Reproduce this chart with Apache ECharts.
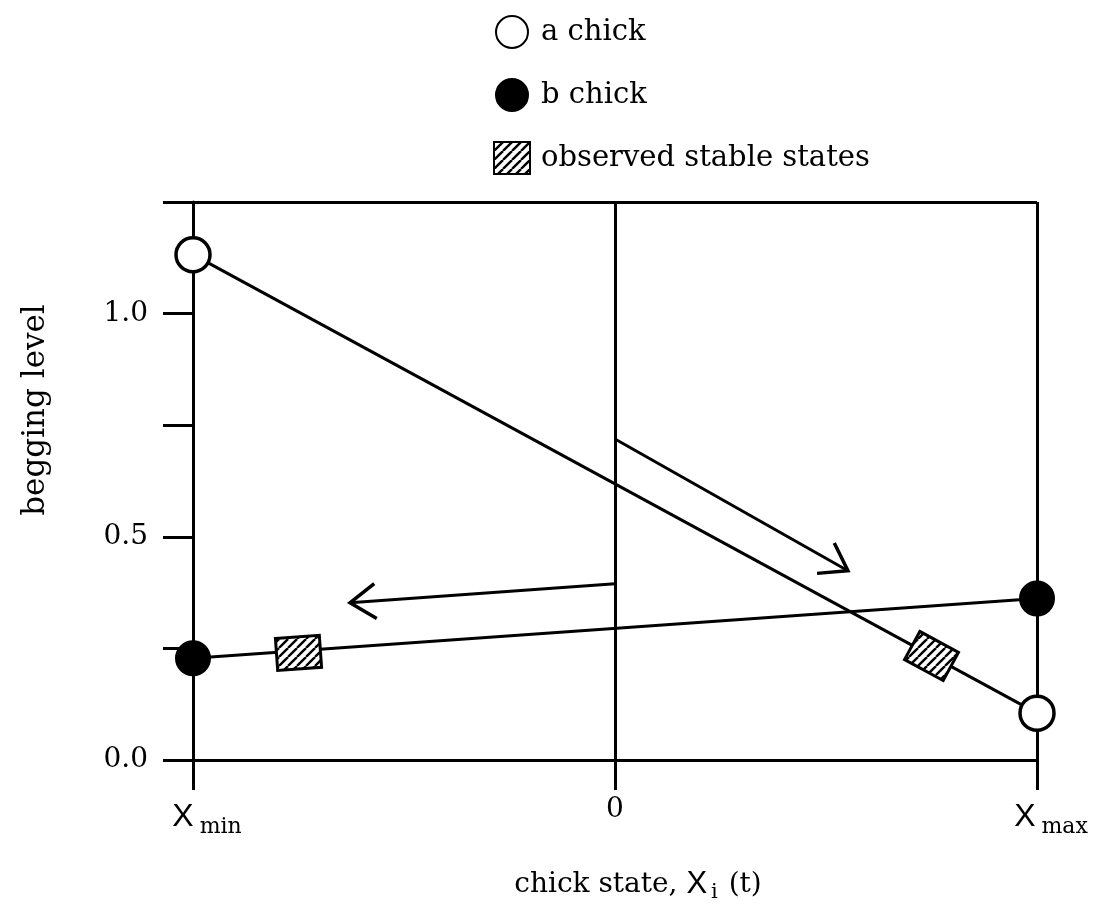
<!DOCTYPE html>
<html>
<head>
<meta charset="utf-8">
<script src="https://cdn.jsdelivr.net/npm/echarts@6/dist/echarts.min.js"></script>
<style>
html,body{margin:0;padding:0;background:#fff;}
#c{width:1096px;height:914px;}
</style>
</head>
<body>
<div id="c"></div>
<script>
// ---- data ----
const xTicks = [-1, 0, 1];
const xTickLabels = ['{x|X}{s|min}', '{n|0}', '{x|X}{s|max}'];
const yTickValues = [0, 0.5, 1.0];
const yTickLabels = ['0.0', '0.5', '1.0'];
const aChick = [[-1, 1.132], [1, 0.105]];
const bChick = [[-1, 0.228], [1, 0.362]];
const stableStates = [[-0.75, 0.24], [0.75, 0.233]];
const stableStateOnLine = ['b', 'a'];
const arrows = [[0, 0.719, 0.552, 0.424], [0, 0.395, -0.628, 0.352]];
const legendNames = ['a chick', 'b chick', 'observed stable states'];

// ---- hatch pattern ----
function makeHatch() {
  const s = 9;
  const cv = document.createElement('canvas');
  cv.width = s; cv.height = s;
  const ctx = cv.getContext('2d');
  ctx.fillStyle = '#fff';
  ctx.fillRect(0, 0, s, s);
  ctx.strokeStyle = '#000';
  ctx.lineWidth = 2.4;
  for (let k = -1; k <= 1; k++) {
    ctx.beginPath();
    ctx.moveTo(k * s, s);
    ctx.lineTo(k * s + s, 0);
    ctx.stroke();
  }
  return cv;
}
const hatch = { image: makeHatch(), repeat: 'repeat' };

const FONT = 'DejaVu Serif';
const chart = echarts.init(document.getElementById('c'), null, { renderer: 'canvas' });

function arrowRender(params, api) {
  const p1 = api.coord([api.value(0), api.value(1)]);
  const p2 = api.coord([api.value(2), api.value(3)]);
  const ang = Math.atan2(p2[1] - p1[1], p2[0] - p1[0]);
  const L = 31, h = 0.6;
  const a1 = [p2[0] - L * Math.cos(ang - h), p2[1] - L * Math.sin(ang - h)];
  const a2 = [p2[0] - L * Math.cos(ang + h), p2[1] - L * Math.sin(ang + h)];
  return {
    type: 'group',
    children: [
      { type: 'line', shape: { x1: p1[0], y1: p1[1], x2: p2[0], y2: p2[1] }, style: { stroke: '#000', lineWidth: 3 } },
      { type: 'polyline', shape: { points: [a1, p2, a2] }, style: { stroke: '#000', fill: null, lineWidth: 3.5, lineJoin: 'miter' } }
    ]
  };
}

function boxRender(params, api) {
  const p = api.coord([api.value(0), api.value(1)]);
  const line = stableStateOnLine[params.dataIndex] === 'a' ? aChick : bChick;
  const q1 = api.coord(line[0]);
  const q2 = api.coord(line[1]);
  const ang = Math.atan2(q2[1] - q1[1], q2[0] - q1[0]);
  const hw = 22, hh = 16;
  const c = Math.cos(ang), s = Math.sin(ang);
  const corners = [[-hw, -hh], [hw, -hh], [hw, hh], [-hw, hh]].map(function (d) {
    return [p[0] + d[0] * c - d[1] * s, p[1] + d[0] * s + d[1] * c];
  });
  return {
    type: 'polygon',
    shape: { points: corners },
    style: { fill: hatch, stroke: '#000', lineWidth: 3, lineJoin: 'miter' }
  };
}

const option = {
  backgroundColor: '#fff',
  animation: false,
  grid: { left: 193, right: 59, top: 202, bottom: 154, containLabel: false },
  legend: {
    orient: 'vertical',
    left: 488,
    top: 10,
    itemWidth: 36,
    itemHeight: 32,
    itemGap: 29,
    textStyle: { fontFamily: FONT, fontSize: 29, color: '#000', padding: [0, 0, 0, 6] },
    data: [
      { name: legendNames[0], icon: 'circle' },
      { name: legendNames[1], icon: 'circle' },
      { name: legendNames[2], icon: 'rect' }
    ]
  },
  xAxis: {
    type: 'value',
    min: -1, max: 1, interval: 1,
    name: '{t|chick state, }{x|X}{s|i}{t| (t)}',
    nameLocation: 'middle',
    nameGap: 106,
    nameTextStyle: {
      padding: [0, 0, 0, 46],
      rich: {
        t: { fontFamily: FONT, fontSize: 28, color: '#000' },
        x: { fontFamily: 'Liberation Sans', fontSize: 31, color: '#000' },
        s: { fontFamily: FONT, fontSize: 21, color: '#000', padding: [16, 2, 0, 4] }
      }
    },
    axisLine: { show: true, onZero: false, lineStyle: { color: '#000', width: 3 } },
    axisTick: { show: true, inside: false, length: 30, lineStyle: { color: '#000', width: 3 } },
    splitLine: { show: true, lineStyle: { color: '#000', width: 3 } },
    axisLabel: {
      margin: 36,
      showMinLabel: true, showMaxLabel: true,
      formatter: function (v) {
        const i = xTicks.indexOf(v);
        return i >= 0 ? xTickLabels[i] : '';
      },
      rich: {
        x: { fontFamily: 'Liberation Sans', fontSize: 32, color: '#000', padding: [0, 0, 0, 28] },
        s: { fontFamily: FONT, fontSize: 22, color: '#000', padding: [20, 0, 0, 6] },
        n: { fontFamily: FONT, fontSize: 28, color: '#000' }
      }
    }
  },
  yAxis: {
    type: 'value',
    min: 0, max: 1.25, interval: 0.25,
    axisLine: { show: true, onZero: false, lineStyle: { color: '#000', width: 3 } },
    axisTick: { show: true, inside: false, length: 30, lineStyle: { color: '#000', width: 3 } },
    splitLine: { show: true, lineStyle: { color: ['rgba(0,0,0,0)', 'rgba(0,0,0,0)', 'rgba(0,0,0,0)', 'rgba(0,0,0,0)', 'rgba(0,0,0,0)', '#000'], width: 3 } },
    axisLabel: {
      margin: 45,
      fontFamily: FONT, fontSize: 28, color: '#000',
      showMinLabel: true, showMaxLabel: true,
      formatter: function (v) {
        for (let i = 0; i < yTickValues.length; i++) {
          if (Math.abs(v - yTickValues[i]) < 1e-9) return yTickLabels[i];
        }
        return '';
      }
    }
  },
  graphic: [{
    type: 'text',
    x: 36, y: 410,
    rotation: Math.PI / 2,
    style: { text: 'begging level', font: '31px "' + FONT + '"', fill: '#000', textAlign: 'center', textVerticalAlign: 'middle' }
  }],
  series: [
    {
      name: legendNames[1], type: 'line', data: bChick, clip: false, z: 3,
      symbol: 'circle', symbolSize: 34, showSymbol: true,
      lineStyle: { color: '#000', width: 3 },
      itemStyle: { color: '#000', borderColor: '#000', borderWidth: 2 }
    },
    {
      name: legendNames[0], type: 'line', data: aChick, clip: false, z: 4,
      symbol: 'circle', symbolSize: 34, showSymbol: true,
      lineStyle: { color: '#000', width: 3 },
      itemStyle: { color: '#fff', borderColor: '#000', borderWidth: 3.5 }
    },
    {
      name: 'arrows', type: 'custom', renderItem: arrowRender, data: arrows, clip: false, z: 2,
      encode: { x: [0, 2], y: [1, 3] }
    },
    {
      name: legendNames[2], type: 'custom', renderItem: boxRender, data: stableStates, z: 5,
      encode: { x: 0, y: 1 },
      itemStyle: { color: hatch, borderColor: '#000', borderWidth: 3 }
    }
  ]
};
chart.setOption(option);
</script>
</body>
</html>
